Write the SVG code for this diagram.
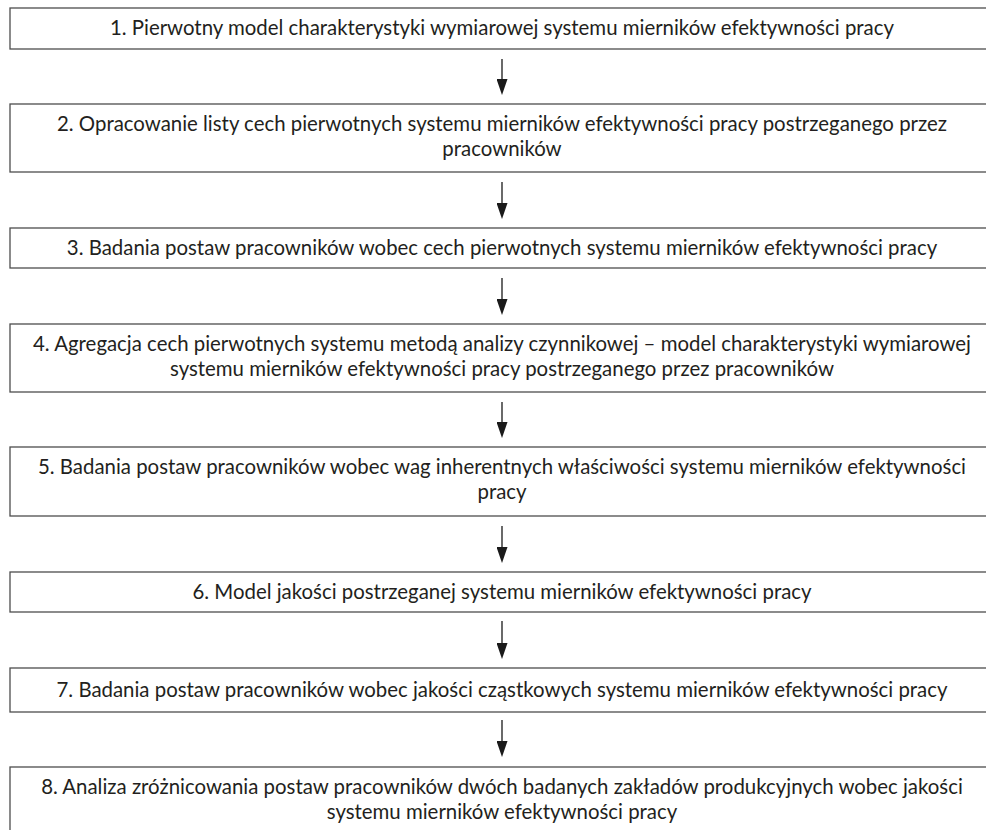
<svg xmlns="http://www.w3.org/2000/svg" width="986" height="830" viewBox="0 0 986 830">
  <defs>
    <style>
      .box { fill: #ffffff; stroke: #4d4d4d; stroke-width: 1.3; }
      .lbl { font-family: Lato, "Open Sans", sans-serif; font-size: 20.4px; fill: #231f20; text-anchor: middle; }
      .conn { stroke: #1a1a1a; stroke-width: 1.3; fill: none; marker-end: url(#arrow); }
    </style>
    <marker id="arrow" markerUnits="userSpaceOnUse" markerWidth="16" markerHeight="11" viewBox="0 0 16 11" refX="12" refY="5.5" orient="auto">
      <path d="M0,0 L16,5.5 L0,11 Z" fill="#1a1a1a"/>
    </marker>
  </defs>
  <rect width="986" height="830" fill="#ffffff"/>

  <g id="connectors">
    <line class="conn" x1="502" y1="59" x2="502" y2="91"/>
    <line class="conn" x1="502" y1="182" x2="502" y2="215"/>
    <line class="conn" x1="502" y1="278" x2="502" y2="311"/>
    <line class="conn" x1="502" y1="402" x2="502" y2="434"/>
    <line class="conn" x1="502" y1="526" x2="502" y2="559"/>
    <line class="conn" x1="502" y1="621" x2="502" y2="655"/>
    <line class="conn" x1="502" y1="720" x2="502" y2="753"/>
  </g>

  <g id="node1">
    <rect class="box" x="10" y="8" width="990" height="41"/>
    <text class="lbl" x="502" y="35">1. Pierwotny model charakterystyki wymiarowej systemu mierników efektywności pracy</text>
  </g>
  <g id="node2">
    <rect class="box" x="10" y="104" width="990" height="68"/>
    <text class="lbl" x="502" y="131">2. Opracowanie listy cech pierwotnych systemu mierników efektywności pracy postrzeganego przez</text>
    <text class="lbl" x="502" y="156">pracowników</text>
  </g>
  <g id="node3">
    <rect class="box" x="10" y="228" width="990" height="40"/>
    <text class="lbl" x="502" y="255">3. Badania postaw pracowników wobec cech pierwotnych systemu mierników efektywności pracy</text>
  </g>
  <g id="node4">
    <rect class="box" x="10" y="324" width="990" height="68"/>
    <text class="lbl" x="502" y="351">4. Agregacja cech pierwotnych systemu metodą analizy czynnikowej – model charakterystyki wymiarowej</text>
    <text class="lbl" x="502" y="376">systemu mierników efektywności pracy postrzeganego przez pracowników</text>
  </g>
  <g id="node5">
    <rect class="box" x="10" y="447" width="990" height="69"/>
    <text class="lbl" x="502" y="474">5. Badania postaw pracowników wobec wag inherentnych właściwości systemu mierników efektywności</text>
    <text class="lbl" x="502" y="499">pracy</text>
  </g>
  <g id="node6">
    <rect class="box" x="10" y="572" width="990" height="40"/>
    <text class="lbl" x="502" y="599">6. Model jakości postrzeganej systemu mierników efektywności pracy</text>
  </g>
  <g id="node7">
    <rect class="box" x="10" y="668" width="990" height="44"/>
    <text class="lbl" x="502" y="697">7. Badania postaw pracowników wobec jakości cząstkowych systemu mierników efektywności pracy</text>
  </g>
  <g id="node8">
    <rect class="box" x="10" y="767" width="990" height="80"/>
    <text class="lbl" x="502" y="794">8. Analiza zróżnicowania postaw pracowników dwóch badanych zakładów produkcyjnych wobec jakości</text>
    <text class="lbl" x="502" y="819">systemu mierników efektywności pracy</text>
  </g>
</svg>
